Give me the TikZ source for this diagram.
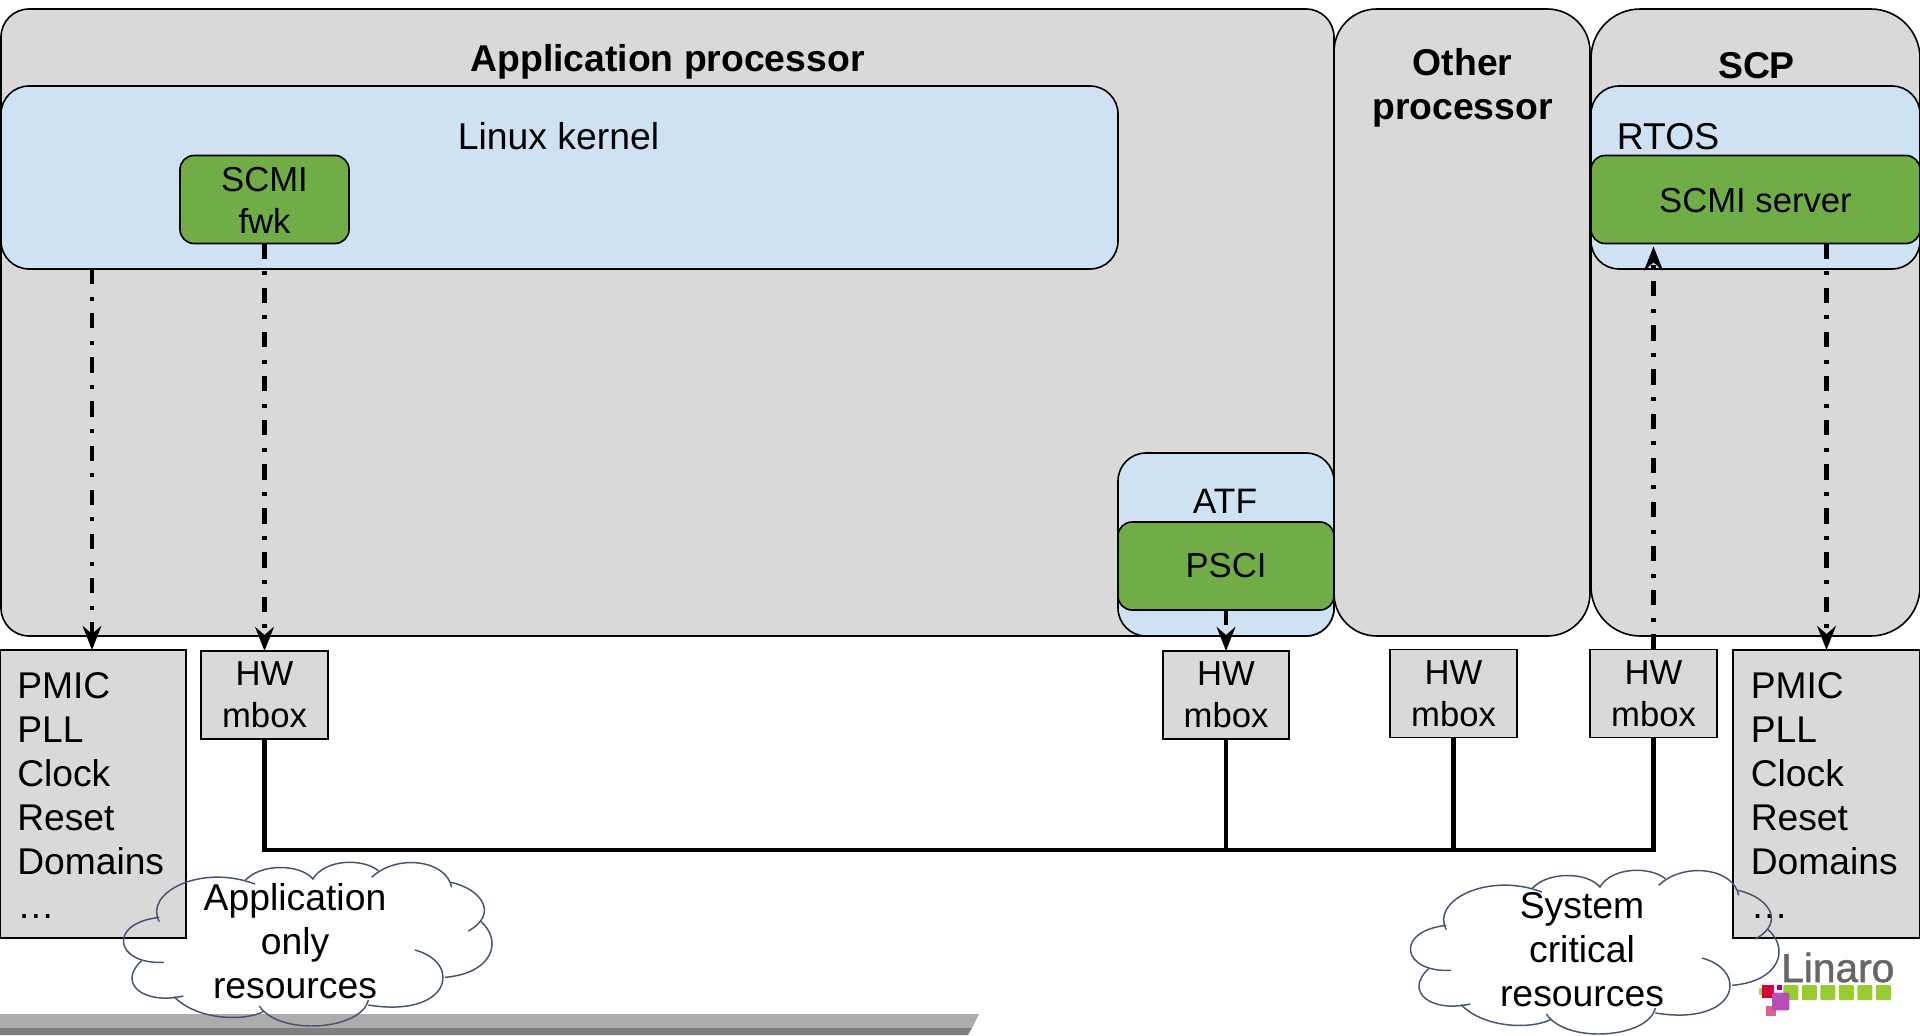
\documentclass[tikz,border=0pt]{standalone}
\usepackage{fontspec}
\setmainfont{Liberation Sans}
\newfontfamily\logofont[FakeBold=1.2]{Liberation Sans}
\usetikzlibrary{arrows.meta}
\definecolor{panelgray}{HTML}{D9D9D9}
\definecolor{softblue}{HTML}{CFE2F3}
\definecolor{leaf}{HTML}{70AD47}
\definecolor{cloudline}{HTML}{44546A}
\definecolor{barlight}{HTML}{ACACAC}
\definecolor{bardark}{HTML}{7F7F7F}
\definecolor{logogray}{HTML}{666666}
\definecolor{logogreen}{HTML}{98CB30}
\definecolor{logored}{HTML}{D5003A}
\definecolor{logolime}{HTML}{B5C86A}
\definecolor{logomag}{HTML}{A000A0}
\definecolor{logopink}{HTML}{E0608A}
\definecolor{logopurple}{HTML}{B84DB8}
\newcommand{\dn}[1]{\rule{0pt}{#1}}
\tikzset{
  sz/.style 2 args={minimum width=#1*0.75pt,minimum height=#2*0.75pt},
  boxbase/.style={draw=black,line width=1.2pt,inner sep=0pt,outer sep=0pt,anchor=north west,align=center},
  panel/.style={boxbase,fill=panelgray,rounded corners=21pt},
  bluebox/.style={boxbase,fill=softblue,rounded corners=21pt},
  greenbox/.style={boxbase,fill=leaf,rounded corners=10.5pt,font=\fontsize{26pt}{31.5pt}\selectfont},
  mbox/.style={boxbase,fill=panelgray,font=\fontsize{26pt}{31.5pt}\selectfont},
  pmic/.style={boxbase,fill=panelgray,align=left,inner xsep=13pt,text width=113.5pt,
    font=\fontsize{27.9pt}{33pt}\selectfont},
  ttl/.style={anchor=base,align=center,inner sep=0pt,font=\fontsize{28pt}{33pt}\selectfont\bfseries},
  lbl/.style={anchor=base,align=center,inner sep=0pt,font=\fontsize{28pt}{33pt}\selectfont},
  lblsmall/.style={anchor=base,align=center,inner sep=0pt,font=\fontsize{26.5pt}{31.5pt}\selectfont},
  ddarrow/.style={line width=3.1pt,dash pattern=on 11.5pt off 9.3pt on 3pt off 9.3pt,
    -{Stealth[length=18pt,width=14pt,inset=6pt]}},
  busline/.style={line width=3.1pt},
  cloudarc/.style={draw=cloudline,line width=1.1pt},
  cloudtxt/.style={align=center,inner sep=0pt,font=\fontsize{28pt}{33pt}\selectfont},
  sq/.style={fill=logogreen,rounded corners=0.8pt}
}
\newcommand{\cloudlobes}{%
  \draw[cloudarc] (478,875) .. controls (430,790) and (600,700) .. (765,762);
  \draw[cloudarc] (735,752) .. controls (780,700) and (900,700) .. (940,748);
  \draw[cloudarc] (938,748) .. controls (975,685) and (1090,685) .. (1135,722);
  \draw[cloudarc] (1115,742) .. controls (1190,670) and (1340,690) .. (1355,772);
  \draw[cloudarc] (1352,757) .. controls (1440,775) and (1500,850) .. (1405,903);
  \draw[cloudarc] (1440,872) .. controls (1510,930) and (1480,1030) .. (1335,1042);
  \draw[cloudarc] (1245,960) .. controls (1390,1000) and (1350,1165) .. (1105,1125);
  \draw[cloudarc] (1105,1110) .. controls (1085,1200) and (840,1220) .. (778,1128);
  \draw[cloudarc] (790,1145) .. controls (730,1175) and (590,1170) .. (522,1100);
  \draw[cloudarc] (550,1098) .. controls (430,1125) and (350,1060) .. (425,992);
  \draw[cloudarc] (492,997) .. controls (345,1005) and (320,880) .. (478,862);
}
\begin{document}
\begin{tikzpicture}[x=0.75pt,y=-0.75pt]
\useasboundingbox (0,0) rectangle (1920,1035);
% bottom bar
\fill[barlight] (0,1014) -- (979,1014) -- (972,1028) -- (0,1028) -- cycle;
\fill[bardark] (0,1028) -- (972,1028) -- (968,1035) -- (0,1035) -- cycle;
% panels
\node[panel,sz={1333}{627}] (app) at (1,9) {};
\node[panel,sz={256}{627},rounded corners=32pt] (other) at (1334,9) {};
\node[panel,sz={329}{627},rounded corners=37pt] (scp) at (1591,9) {};
\node[bluebox,sz={1117}{183}] (linux) at (1,86) {};
\node[bluebox,sz={216}{183}] (atf) at (1118,453) {};
\node[bluebox,sz={329}{183}] (rtos) at (1591,86) {};
\node[greenbox,sz={169}{88}] (fwk) at (180,155.5) {\dn{19pt}SCMI\\fwk};
\node[greenbox,sz={216}{88}] (psci) at (1118,522) {PSCI};
\node[greenbox,sz={329}{88}] (server) at (1591,155.5) {\dn{20.5pt}SCMI server};
% titles
\node[ttl] (apptitle) at (667.5,71) {Application processor};
\node[ttl] (othertitle) at (1462.5,119) {Other\\processor};
\node[ttl] (scptitle) at (1756.5,78) {SCP};
\node[lbl] (linuxtitle) at (558.5,149) {Linux kernel};
\node[lbl] (rtostitle) at (1668,149) {RTOS};
\node[lblsmall] (atftitle) at (1225,513) {ATF};
% lower boxes
\node[pmic,sz={186}{288}] (pmicL) at (0,650) {\dn{22pt}PMIC\\PLL\\Clock\\Reset\\Domains\\…};
\node[pmic,sz={187}{288}] (pmicR) at (1733,650) {\dn{22pt}PMIC\\PLL\\Clock\\Reset\\Domains\\…};
\node[mbox,sz={127}{88}] (mboxA) at (201,651) {HW\\mbox};
\node[mbox,sz={126}{88}] (mboxB) at (1163,651) {HW\\mbox};
\node[mbox,sz={127}{88}] (mboxC) at (1390,649.5) {HW\\mbox};
\node[mbox,sz={127}{88}] (mboxD) at (1590,649.5) {HW\\mbox};
% dash-dot arrows
\draw[ddarrow] ([xshift=-0.75pt]linux.south -| pmicL.north) -- ([xshift=-0.75pt]pmicL.north);
\draw[ddarrow] (fwk.south) -- (mboxA.north);
\draw[ddarrow] (psci.south) -- (mboxB.north);
\draw[ddarrow] (mboxD.north) -- ([yshift=-2.2pt]mboxD.north |- server.south);
\draw[ddarrow] (server.south -| pmicR.north) -- (pmicR.north);
% bus
\coordinate (bus) at (0,850);
\draw[busline] (mboxA.south) |- (bus -| mboxD.south) -- (mboxD.south);
\draw[busline] (mboxB.south) -- (bus -| mboxB.south);
\draw[busline] (mboxC.south) -- (bus -| mboxC.south);
% clouds
\begin{scope}[x=0.25pt,y=-0.25pt,shift={(0,1890)}]
  \cloudlobes
\end{scope}
\begin{scope}[x=0.25pt,y=-0.25pt,shift={(3861,1914)}]
  \cloudlobes
\end{scope}
\node[cloudtxt] (cloudA) at (295,941.5) {Application\\only\\resources};
\node[cloudtxt] (cloudB) at (1582,949.5) {System\\critical\\resources};
% logo
\node[anchor=base west,inner sep=0pt,text=logogray,font=\fontsize{30.5pt}{36pt}\logofont] (linaro) at (1781,982) {Linaro};
\foreach \i in {0,...,5} \fill[sq] ({1783.3+18.5*\i},985) rectangle ++(15,15);
\fill[logolime] (1759,988) rectangle (1765.5,994.7);
\fill[logored] (1762,985.3) rectangle (1774.3,997.7);
\fill[logomag] (1777,985) rectangle (1781.7,989.7);
\fill[logopink] (1766.3,1005.7) rectangle (1776.3,1016);
\fill[logopurple,rounded corners=1pt] (1772,992.7) rectangle (1789.3,1010.3);
\end{tikzpicture}
\end{document}
